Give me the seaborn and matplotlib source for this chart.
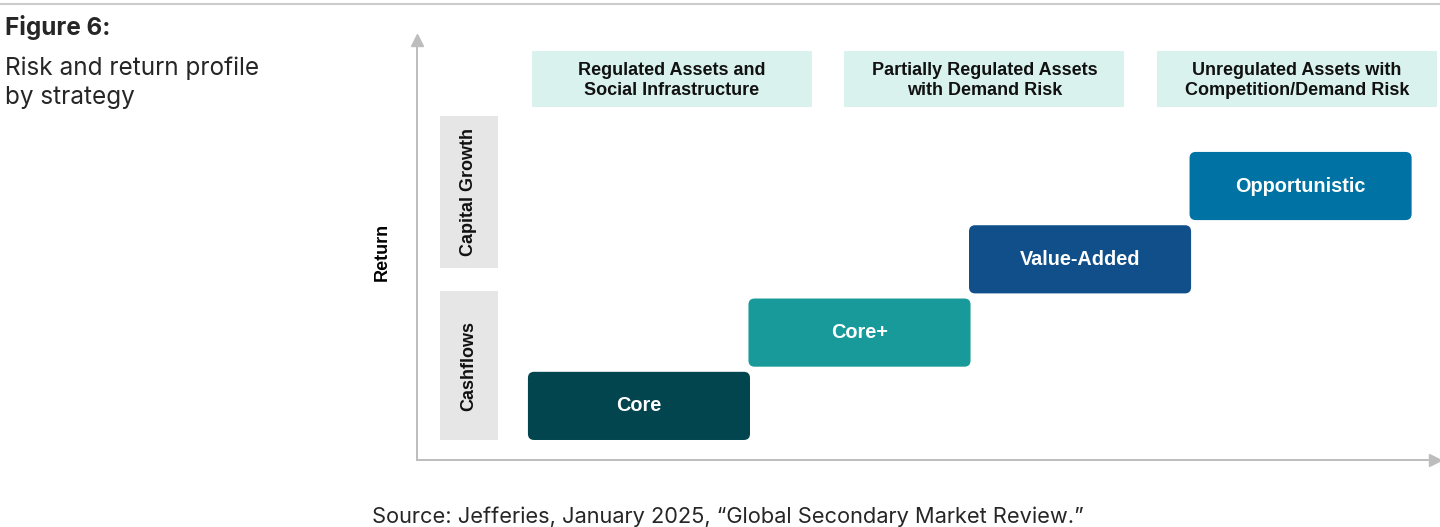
import matplotlib
matplotlib.use("Agg")
import matplotlib.pyplot as plt
import seaborn as sns
from matplotlib.patches import FancyBboxPatch, Rectangle
from matplotlib.lines import Line2D

###

strategies    = ['Core', 'Core+', 'Value-Added', 'Opportunistic']
risk_rank     = [0, 1, 2, 3]
return_rank   = [0, 1, 2, 3]
strategy_cols = ['#02454f', '#189a9a', '#114f8b', '#0072a3']

asset_classes = ['Regulated Assets and\nSocial Infrastructure',
                 'Partially Regulated Assets\nwith Demand Risk',
                 'Unregulated Assets with\nCompetition/Demand Risk']
return_sources = ['Cashflows', 'Capital Growth']

###

sns.set_theme(style='white')
plt.rcParams['font.family'] = ['Liberation Sans', 'DejaVu Sans']

W, H = 1440, 527
fig = plt.figure(figsize=(W / 100, H / 100), dpi=100)

# axes box in pixels (left, top, right, bottom)
L, T, R, B = 417, 40, 1435, 460
ax = fig.add_axes([L / W, 1 - B / H, (R - L) / W, (B - T) / H])
ax.set_xlim(-0.503, 4.113)
ax.set_ylim(-0.273, 5.457)
ax.set_xticks([]); ax.set_yticks([])
ax.set_facecolor('none')

axis_col = '#bdbdbd'
for side in ['top', 'right']:  ax.spines[side].set_visible(False)
for side in ['left', 'bottom']:
    ax.spines[side].set_color(axis_col)
    ax.spines[side].set_linewidth(1.4)
ax.plot(1, 0, '>', ms=9, color=axis_col, transform=ax.transAxes, clip_on=False)
ax.plot(0, 1, '^', ms=9, color=axis_col, transform=ax.transAxes, clip_on=False)

ax.set_ylabel('Return', fontsize=13, fontweight='bold', color='black')
ax.yaxis.set_label_coords(-(L - 391) / (R - L), (B - 252) / (B - T))

# keep rounded corners circular on screen
px_x = (R - L) / (4.113 + 0.503)
px_y = (B - T) / (5.457 + 0.273)
aspect = px_x / px_y

box_w, box_h = 1.007, 0.93
for name, xr, yr, col in zip(strategies, risk_rank, return_rank, strategy_cols):
    ax.add_patch(FancyBboxPatch((xr, yr), box_w, box_h,
                                boxstyle='round,pad=0,rounding_size=0.028',
                                mutation_aspect=aspect, fc=col, ec='none'))
    ax.text(xr + box_w / 2, yr + box_h / 2, name, ha='center', va='center',
            color='white', fontsize=14.3, fontweight='bold')

# asset class headers
hdr_w, hdr_step, hdr_y0, hdr_y1 = 1.27, 1.417, 4.54, 5.31
for k, label in enumerate(asset_classes):
    x0 = 0.018 + k * hdr_step
    ax.add_patch(Rectangle((x0, hdr_y0), hdr_w, hdr_y1 - hdr_y0, fc='#d9f2ee', ec='none', clip_on=False))
    ax.text(x0 + hdr_w / 2, (hdr_y0 + hdr_y1) / 2 - 0.02, label, ha='center', va='center',
            fontsize=13, fontweight='bold', color='#111111', clip_on=False, linespacing=1.3)

# return source bands
bands = [(0.0, 2.03), (2.35, 4.42)]
for label, (y0, y1) in zip(return_sources, bands):
    ax.add_patch(Rectangle((-0.399, y0), 0.263, y1 - y0, fc='#e6e6e6', ec='none'))
    ax.text(-0.399 + 0.263 / 2, (y0 + y1) / 2, label, ha='center', va='center',
            rotation=90, fontsize=13, fontweight='bold', color='#111111')

# page furniture
fig.add_artist(Line2D([0, 1], [1 - 4 / H, 1 - 4 / H], color='#cccccc', lw=1.5))
fig.text(5 / W, 1 - 28 / H, 'Figure 6:', fontsize=17.5, fontweight='bold',
         family=['Inter', 'DejaVu Sans'], va='center', ha='left')
fig.text(5 / W, 1 - 83 / H, 'Risk and return profile\nby strategy', fontsize=17.5,
         family=['Inter', 'DejaVu Sans'], va='center', ha='left', linespacing=1.32)
fig.text(372 / W, 1 - 517 / H, 'Source: Jefferies, January 2025, \u201cGlobal Secondary Market Review.\u201d',
         fontsize=15.7, family=['Inter', 'DejaVu Sans'], va='center', ha='left')

fig.savefig('out.png', dpi=100)
